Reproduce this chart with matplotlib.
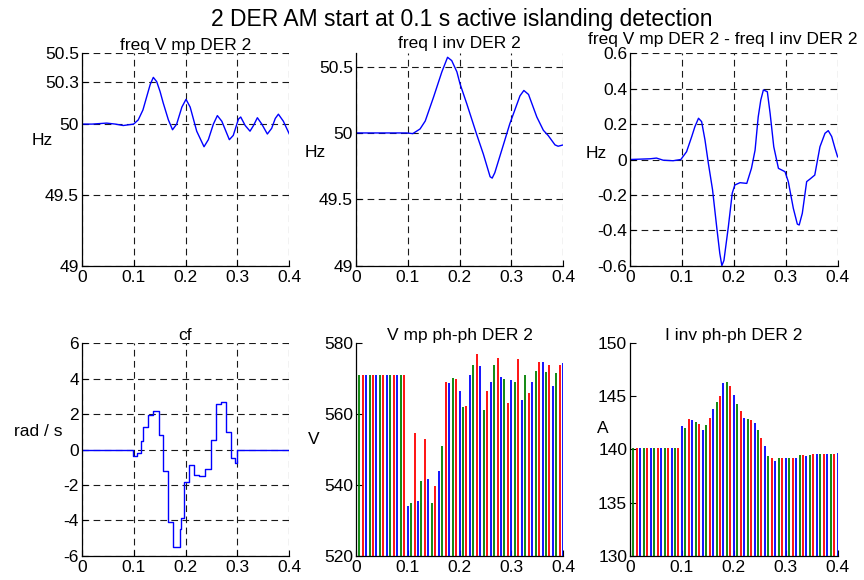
import matplotlib
matplotlib.use('Agg')
import matplotlib.pyplot as plt

plt.rcParams['font.family'] = ['Liberation Sans', 'DejaVu Sans']

# ---------------- data ----------------
x_ticks = [0, 0.1, 0.2, 0.3, 0.4]
x_tick_labels = ['0', '0.1', '0.2', '0.3', '0.4']

# freq Vmp DER 2 (Hz)
fv_t = [0.0, 0.02, 0.048, 0.065, 0.08, 0.1, 0.109, 0.118, 0.125, 0.132, 0.138, 0.1445,
        0.151, 0.157, 0.167, 0.175, 0.183, 0.193, 0.201, 0.209, 0.2216, 0.2357, 0.244,
        0.2537, 0.2614, 0.27, 0.2845, 0.292, 0.302, 0.3064, 0.315, 0.3243, 0.331,
        0.3385, 0.347, 0.3577, 0.366, 0.373, 0.379, 0.3886, 0.4]
fv_f = [50.0, 50.0, 50.007, 50.0, 49.99, 50.0, 50.03, 50.1, 50.19, 50.28, 50.33, 50.3,
        50.23, 50.15, 50.03, 49.96, 50.0, 50.12, 50.175, 50.12, 49.95, 49.84, 49.89,
        50.0, 50.06, 50.02, 49.89, 49.92, 50.035, 50.05, 49.99, 49.95, 49.99,
        50.045, 50.0, 49.93, 49.97, 50.04, 50.07, 50.02, 49.93]

# freq Iinv DER 2 (Hz)
fi_t = [0.0, 0.098, 0.11, 0.124, 0.134, 0.15, 0.166, 0.177, 0.185, 0.195, 0.201, 0.214,
        0.233, 0.246, 0.259, 0.263, 0.268, 0.2845, 0.297, 0.3166, 0.324, 0.333, 0.349,
        0.3616, 0.371, 0.384, 0.39, 0.4]
fi_f = [50.0, 50.0, 49.995, 50.03, 50.09, 50.27, 50.46, 50.57, 50.545, 50.46, 50.37, 50.22,
        49.99, 49.84, 49.67, 49.66, 49.7, 49.91, 50.07, 50.28, 50.32, 50.29, 50.12,
        50.02, 49.98, 49.91, 49.9, 49.91]

# freq Vmp - freq Iinv (Hz)
fd_t = [0.0, 0.0385, 0.051, 0.064, 0.083, 0.098, 0.109, 0.119, 0.125, 0.132, 0.138, 0.1445,
        0.151, 0.159, 0.167, 0.173, 0.177, 0.181, 0.1895, 0.197, 0.202, 0.212, 0.225,
        0.234, 0.241, 0.247, 0.252, 0.257, 0.2646, 0.27, 0.277, 0.286, 0.2987, 0.305,
        0.3147, 0.3224, 0.326, 0.332, 0.3404, 0.347, 0.356, 0.366, 0.3757, 0.382,
        0.3886, 0.395, 0.4]
fd_v = [0.0, 0.004, 0.008, -0.004, -0.007, 0.0, 0.044, 0.13, 0.185, 0.233, 0.214, 0.11,
        -0.022, -0.17, -0.38, -0.53, -0.6, -0.57, -0.38, -0.19, -0.144, -0.131, -0.135,
        -0.05, 0.053, 0.24, 0.336, 0.393, 0.383, 0.26, 0.072, -0.05, -0.069, -0.125,
        -0.276, -0.365, -0.37, -0.304, -0.125, -0.11, -0.088, 0.072, 0.148, 0.163,
        0.13, 0.063, 0.015]

# cf (rad/s), stepped
cf_t = [0.0, 0.0996, 0.107, 0.1137, 0.1188, 0.1278, 0.1368, 0.1484, 0.1574, 0.1657,
        0.1766, 0.1895, 0.1914, 0.1978, 0.2075, 0.2171, 0.2267, 0.237, 0.2486, 0.2588,
        0.2678, 0.278, 0.2877, 0.2954, 0.2987, 0.4]
cf_v = [0.0, -0.35, -0.22, 0.5, 1.25, 1.95, 2.15, 0.8, -1.2, -4.1,
        -5.5, -4.5, -3.85, -1.85, -0.85, -1.45, -1.5, -1.1, 0.55, 2.55,
        2.7, 1.0, -0.5, -0.75, 0.0, 0.0]

# peak times of the three line-to-line phases
ta = [0.0, 0.02, 0.04, 0.06, 0.08, 0.1, 0.12, 0.14, 0.16, 0.18, 0.2,
      0.22, 0.24, 0.26, 0.28, 0.3, 0.32, 0.34, 0.36, 0.38, 0.4]
tb = [0.0067, 0.0267, 0.0467, 0.0667, 0.0867, 0.1067, 0.1267, 0.1467, 0.1667, 0.1867,
      0.2067, 0.2267, 0.2467, 0.2667, 0.2867, 0.3067, 0.3267, 0.3467, 0.3667, 0.3867]
tc = [0.0133, 0.0333, 0.0533, 0.0733, 0.0933, 0.1133, 0.1333, 0.1533, 0.1733, 0.1933,
      0.2133, 0.2333, 0.2533, 0.2733, 0.2933, 0.3133, 0.3333, 0.3533, 0.3733, 0.3933]

# Vmp ph-ph peak values (V)
va = [557.7, 571, 571, 571, 571, 533.9, 535.5, 541.8, 544, 568.8, 566.5,
      571, 573.5, 569.2, 570.5, 569.5, 564, 569.2, 574.6, 568, 574.5]
vb = [571, 571, 571, 571, 571, 534.8, 541.2, 535, 551, 570.2,
      562, 574, 561.2, 573.9, 569.8, 569, 571, 572.2, 572, 571.7]
vc = [571, 571, 571, 571, 571, 554.6, 553, 539.6, 569, 570,
      562.3, 577, 566.6, 575.8, 563, 575.5, 566, 574.8, 574, 573.9]

# Iinv ph-ph peak values (A)
ia = [137.6, 140.15, 140.15, 140.15, 140.15, 142.2, 142.8, 141.8, 143.8, 146.3, 145.1,
      143.0, 142.5, 140.3, 138.9, 139.2, 139.2, 139.4, 139.6, 139.6, 139.7]
ib = [140.15, 140.15, 140.15, 140.15, 140.15, 142.0, 142.6, 142.3, 144.5, 146.4,
      144.3, 142.9, 141.8, 139.4, 139.2, 139.2, 139.45, 139.5, 139.55, 139.6]
ic = [140.15, 140.15, 140.15, 140.15, 140.15, 142.9, 142.4, 143.0, 145.0, 146.0,
      143.6, 142.8, 141.1, 139.2, 139.2, 139.2, 139.45, 139.6, 139.6, 139.6]

# ---------------- figure ----------------
W, H = 864, 580
fig = plt.figure(figsize=(W / 100, H / 100), dpi=100)
AW, AH = 207.6, 212.4
FS = 12.5


def make_axes(x0, ytop):
    return fig.add_axes([x0 / W, 1 - (ytop + AH) / H, AW / W, AH / H])


def style(ax, ylim, yticks, ylabels, grid=True):
    ax.set_xlim(0, 0.4)
    ax.set_ylim(*ylim)
    ax.set_xticks(x_ticks)
    ax.set_xticklabels(x_tick_labels)
    ax.set_yticks(yticks)
    ax.set_yticklabels(ylabels)
    for s in ['top', 'right']:
        ax.spines[s].set_visible(False)
    for s in ['left', 'bottom']:
        ax.spines[s].set_linewidth(0.9)
        ax.spines[s].set_color('black')
    ax.tick_params(axis='both', direction='in', length=4, width=0.8,
                   labelsize=FS, colors='black')
    ax.tick_params(axis='x', pad=3)
    ax.tick_params(axis='y', pad=2)
    if grid:
        ax.grid(True, color='#1a1a1a', linestyle=(0, (6, 4)), linewidth=0.8)
    ax.set_axisbelow(True)


def ylab(ax, text, x, y):
    ax.set_ylabel(text, rotation=0, fontsize=FS, ha='center', va='center')
    ax.yaxis.set_label_coords(x, y)


BLUE, GREEN, RED = '#0000FF', '#008000', '#FF0000'
SPIKE_LW = 1.3

# top-left
ax1 = make_axes(81.7, 53.3)
ax1.plot(fv_t, fv_f, color=BLUE, lw=1.0)
style(ax1, (49, 50.5), [49, 49.5, 50, 50.3, 50.5], ['49', '49.5', '50', '50.3', '50.5'])
ax1.set_title('freq V mp DER 2', fontsize=FS, pad=1.5)
ylab(ax1, 'Hz', -0.19, 0.59)

# top-middle
ax2 = make_axes(355.7, 53.3)
ax2.plot(fi_t, fi_f, color=BLUE, lw=1.0)
style(ax2, (49, 50.6), [49, 49.5, 50, 50.5], ['49', '49.5', '50', '50.5'])
ax2.set_title('freq I inv DER 2', fontsize=FS, pad=4)
ylab(ax2, 'Hz', -0.196, 0.535)

# top-right
ax3 = make_axes(630, 53.3)
ax3.plot(fd_t, fd_v, color=BLUE, lw=1.0)
style(ax3, (-0.6, 0.6), [-0.6, -0.4, -0.2, 0, 0.2, 0.4, 0.6],
      ['-0.6', '-0.4', '-0.2', '0', '0.2', '0.4', '0.6'])
ax3.set_title('freq V mp DER 2 - freq I inv DER 2', fontsize=FS, pad=6.5, x=0.445)
ylab(ax3, 'Hz', -0.164, 0.53)

# bottom-left
ax4 = make_axes(81.7, 343.3)
ax4.step(cf_t, cf_v, where='post', color=BLUE, lw=1.0)
style(ax4, (-6, 6), [-6, -4, -2, 0, 2, 4, 6], ['-6', '-4', '-2', '0', '2', '4', '6'])
ax4.set_title('cf', fontsize=FS, pad=2)
ylab(ax4, 'rad / s', -0.21, 0.584)

# bottom-middle
ax5 = make_axes(355.7, 343.3)
ax5.vlines(ta, 500, va, colors=BLUE, lw=SPIKE_LW)
ax5.vlines(tb, 500, vb, colors=GREEN, lw=SPIKE_LW)
ax5.vlines(tc, 500, vc, colors=RED, lw=SPIKE_LW)
style(ax5, (520, 580), [520, 540, 560, 580], ['520', '540', '560', '580'], grid=False)
ax5.set_title('V mp ph-ph DER 2', fontsize=FS, pad=2.5)
ylab(ax5, 'V', -0.2, 0.545)

# bottom-right
ax6 = make_axes(630, 343.3)
ax6.vlines(ta, 120, ia, colors=BLUE, lw=SPIKE_LW)
ax6.vlines(tb, 120, ib, colors=GREEN, lw=SPIKE_LW)
ax6.vlines(tc, 120, ic, colors=RED, lw=SPIKE_LW)
style(ax6, (130, 150), [130, 135, 140, 145, 150], ['130', '135', '140', '145', '150'], grid=False)
ax6.set_title('I inv ph-ph DER 2', fontsize=FS, pad=2.5)
ylab(ax6, 'A', -0.13, 0.6)

fig.text(462 / W, 1 - 26 / H, '2 DER AM start at 0.1 s active islanding detection',
         ha='center', va='baseline', fontsize=16.5)

fig.savefig('out.png', dpi=100, facecolor='white')
